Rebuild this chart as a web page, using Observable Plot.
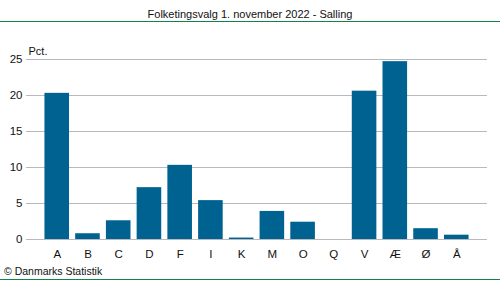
<!DOCTYPE html>
<html>
<head>
<meta charset="utf-8">
<script src="https://cdn.jsdelivr.net/npm/d3@7"></script>
<script src="https://cdn.jsdelivr.net/npm/@observablehq/plot@0.6"></script>
<style>
  html, body { margin: 0; padding: 0; background: #fff; }
  body { width: 500px; height: 282px; overflow: hidden; font-family: "Liberation Sans", Arial, sans-serif; color: #111; }
  #title { height: 21px; border-bottom: 1px solid #14804a; text-align: center; font-size: 11px; line-height: 30px; box-sizing: content-box; }
  #title span { position: relative; top: -1px; }
  #caption { height: 17px; border-bottom: 1px solid #14804a; font-size: 10.5px; line-height: 18px; padding-left: 4px; }
  #chart svg { display: block; }
</style>
</head>
<body>
<div id="title"><span>Folketingsvalg 1. november 2022 - Salling</span></div>
<div id="chart"></div>
<div id="caption">© Danmarks Statistik</div>
<script>
const parties = ["A", "B", "C", "D", "F", "I", "K", "M", "O", "Q", "V", "Æ", "Ø", "Å"];
const values = [20.3, 0.8, 2.6, 7.2, 10.3, 5.4, 0.2, 3.9, 2.4, 0.0, 20.6, 24.7, 1.5, 0.6];
const yTicks = [0, 5, 10, 15, 20, 25];
const yLabel = "Pct.";

const data = parties.map((p, i) => ({party: p, value: values[i]}));

const chart = Plot.plot({
  width: 500,
  height: 240,
  marginTop: 37,
  marginBottom: 23,
  marginLeft: 26,
  marginRight: 13,
  style: {fontFamily: '"Liberation Sans", Arial, sans-serif', fontSize: "11px", color: "#111", background: "#fff"},
  x: {domain: parties, paddingInner: 0.2, paddingOuter: 0.6, round: false, label: null},
  y: {domain: [0, 25], ticks: yTicks, label: null},
  marks: [
    Plot.gridY(yTicks, {stroke: "#b8b8c0", strokeOpacity: 1, strokeWidth: 1}),
    Plot.barY(data, {x: "party", y: "value", fill: "#006290"}),
    Plot.axisX({tickSize: 0, tickPadding: 10, fontSize: 11.5}),
    Plot.axisY(yTicks, {tickSize: 0, tickPadding: 4, fontSize: 11.5, label: null}),
    Plot.text([yLabel], {frameAnchor: "top-left", dx: 2, dy: -12, textAnchor: "start", fontSize: 11})
  ]
});
document.getElementById("chart").appendChild(chart);
</script>
</body>
</html>
